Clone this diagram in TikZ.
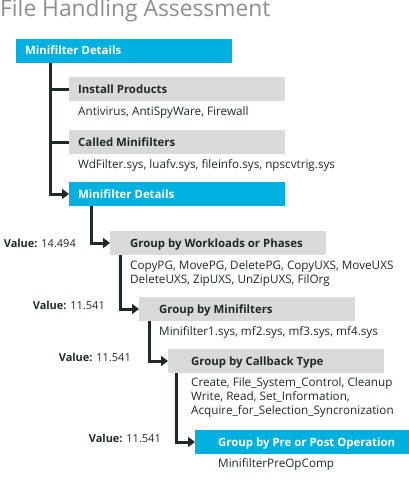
\documentclass[tikz,border=0pt]{standalone}
\usepackage{fontspec}
\setmainfont{Open Sans}
\usetikzlibrary{arrows.meta,calc}
\definecolor{cyanbox}{RGB}{0,176,223}
\definecolor{graybox}{RGB}{217,217,217}
\definecolor{darktxt}{RGB}{30,42,42}
\definecolor{titlegray}{RGB}{140,143,143}
\begin{document}
\begin{tikzpicture}[x=1pt,y=-1pt,
 box/.style={anchor=north west, minimum width=216pt, minimum height=24pt, inner sep=0pt, outer sep=0pt},
 cyanb/.style={box, fill=cyanbox},
 grayb/.style={box, fill=graybox},
 head/.style={anchor=base west, inner sep=0pt, font=\fontsize{11.4}{13}\selectfont\bfseries},
 whitehead/.style={head, text=white},
 darkhead/.style={head, text=darktxt},
 body/.style={anchor=north west, inner sep=0pt, align=left, text=darktxt, font=\fontsize{11.7}{14.2}\selectfont},
 val/.style={anchor=east, inner sep=0pt, text=darktxt, font=\fontsize{11}{13}\selectfont},
 conn/.style={draw=darktxt, line width=3pt},
 arr/.style={conn, -{Triangle[length=7pt,width=10pt]}},
]
\useasboundingbox (0,0) rectangle (409,487);
\node[anchor=base west, inner sep=0pt, text=titlegray, font=\fontsize{22.8}{26}\selectfont] (title) at (0,16.5) {File Handling Assessment};

\node[cyanb] (b1) at (16,39) {};
\node[whitehead] (h1) at ($(b1.north west)+(9,16)$) {Minifilter Details};

\node[grayb] (b2) at (69,77) {};
\node[darkhead] (h2) at ($(b2.north west)+(9,16)$) {Install Products};
\node[body] (t2) at ($(b2.south west)+(9,5)$) {Antivirus, AntiSpyWare, Firewall};

\node[grayb] (b3) at (69,130) {};
\node[darkhead] (h3) at ($(b3.north west)+(9,16)$) {Called Minifilters};
\node[body] (t3) at ($(b3.south west)+(9,5)$) {WdFilter.sys, luafv.sys, fileinfo.sys, npscvtrig.sys};

\node[cyanb] (b4) at (69,182) {};
\node[whitehead] (h4) at ($(b4.north west)+(9,16)$) {Minifilter Details};

\node[grayb] (b5) at (110,231) {};
\node[darkhead] (h5) at ($(b5.north west)+(20,16)$) {Group by Workloads or Phases};
\node[body] (t5) at ($(b5.south west)+(20,5)$) {CopyPG, MovePG, DeletePG, CopyUXS, MoveUXS\\DeleteUXS, ZipUXS, UnZipUXS, FilOrg};
\node[val] (v5) at ($(b5.west)+(-34,0)$) {\textbf{Value:} 14.494};

\node[grayb] (b6) at (139,297) {};
\node[darkhead] (h6) at ($(b6.north west)+(20,16)$) {Group by Minifilters};
\node[body] (t6) at ($(b6.south west)+(20,5)$) {Minifilter1.sys, mf2.sys, mf3.sys, mf4.sys};
\node[val] (v6) at ($(b6.west)+(-34,-4)$) {\textbf{Value:} 11.541};

\node[grayb] (b7) at (168,349) {};
\node[darkhead] (h7) at ($(b7.north west)+(23,16)$) {Group by Callback Type};
\node[body] (t7) at ($(b7.south west)+(23,4.5)$) {Create, File\_System\_Control, Cleanup\\Write, Read, Set\_Information,\\Acquire\_for\_Selection\_Syncronization};
\node[val] (v7) at ($(b7.west)+(-37,-4)$) {\textbf{Value:} 11.541};

\node[cyanb] (b8) at (195,430) {};
\node[whitehead] (h8) at ($(b8.north west)+(23,16)$) {Group by Pre or Post Operation};
\node[body] (t8) at ($(b8.south west)+(23,4.5)$) {MinifilterPreOpComp};
\node[val] (v8) at ($(b8.west)+(-34,-4)$) {\textbf{Value:} 11.541};

\draw[conn] ($(b1.south west)+(34,0)$) |- (b2.west);
\draw[conn] ($(b1.south west)+(34,0)$) |- (b3.west);
\draw[arr] ($(b1.south west)+(34,0)$) |- (b4.west);
\draw[arr] ($(b4.south west)+(22,0)$) |- (b5.west);
\draw[arr] ($(b5.south west)+(10,0)$) |- (b6.west);
\draw[arr] ($(b6.south west)+(10,0)$) |- (b7.west);
\draw[arr] ($(b7.south west)+(8.5,0)$) |- (b8.west);
\end{tikzpicture}
\end{document}
